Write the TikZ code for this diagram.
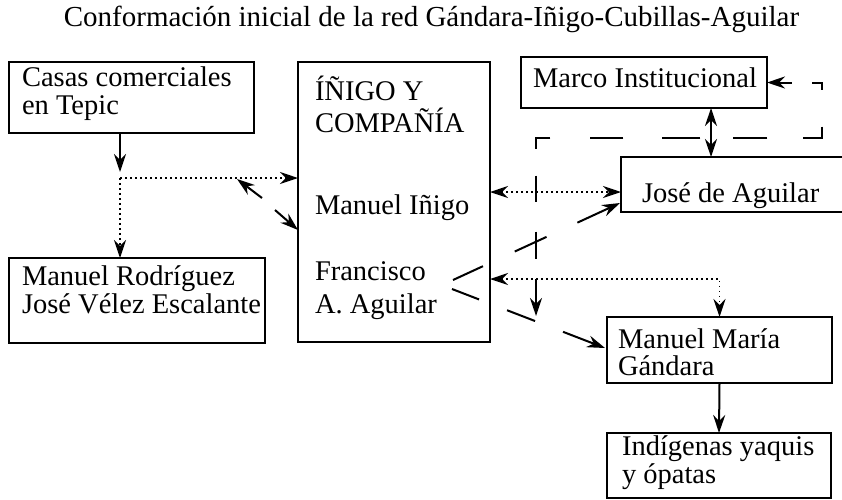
\documentclass[tikz,border=0pt]{standalone}
\usepackage{fontspec}
\setmainfont{Liberation Serif}
\usetikzlibrary{arrows.meta}
\begin{document}
\begin{tikzpicture}[x=1pt,y=-1pt,
  box/.style={draw, line width=1.1pt, inner sep=0pt, outer sep=0pt},
  txt/.style={anchor=base west, inner sep=0pt, outer sep=0pt, font=\fontsize{28.5}{34}\selectfont},
  conn/.style={line width=2pt},
  tipe/.style={-{Stealth[length=18pt,width=12pt,inset=6pt]}},
  tipb/.style={{Stealth[length=18pt,width=12pt,inset=6pt]}-{Stealth[length=18pt,width=12pt,inset=6pt]}},
  dotl/.style={line width=1.6pt, dash pattern=on 1.6pt off 3.4pt},
]
\useasboundingbox (0,0) rectangle (842,499);

% title
\node[anchor=base, inner sep=0pt, font=\fontsize{29}{34}\selectfont] (title) at (431.5,26)
  {Conformación inicial de la red Gándara-Iñigo-Cubillas-Aguilar};

% boxes
\node[box, minimum width=245pt, minimum height=71pt] (casas) at (131.5,97.5) {};
\node[box, minimum width=256pt, minimum height=85pt] (rv) at (137,300.5) {};
\node[box, minimum width=192pt, minimum height=280pt] (inigo) at (394,202) {};
\node[box, minimum width=246pt, minimum height=51pt] (marco) at (644,82.5) {};
\node[box, minimum width=259pt, minimum height=55pt] (jose) at (750.5,184.5) {};
\node[box, minimum width=225pt, minimum height=66pt] (gandara) at (719.5,350) {};
\node[box, minimum width=224pt, minimum height=65pt] (indig) at (719,465.5) {};

% texts
\node[txt] (t1) at (22,86) {Casas comerciales};
\node[txt] (t2) at (22,114) {en Tepic};
\node[txt] (t3) at (22,285) {Manuel Rodríguez};
\node[txt] (t4) at (22,313) {José Vélez Escalante};
\node[txt] (t5) at (315,100) {ÍÑIGO Y};
\node[txt] (t6) at (315,132) {COMPAÑÍA};
\node[txt] (t7) at (315,214) {Manuel Iñigo};
\node[txt] (t8) at (315,280) {Francisco};
\node[txt] (t9) at (315,313) {A. Aguilar};
\node[txt] (t10) at (533,87) {Marco Institucional};
\node[txt] (t11) at (642,202) {José de Aguilar};
\node[txt] (t12) at (618,348) {Manuel María};
\node[txt] (t13) at (618,375) {Gándara};
\node[txt] (t14) at (622,455) {Indígenas yaquis};
\node[txt] (t15) at (622,483) {y ópatas};

% coordinates
\coordinate (jt) at (120,172);
\coordinate (j) at (120,178);
\coordinate (b1s) at (262,198);
\coordinate (b1e) at (237,179);
\coordinate (b2s) at (275,210);
\coordinate (b2e) at (298,230);
\coordinate (miy) at (0,192);
\coordinate (fgy) at (0,279);
\coordinate (mjx) at (711,0);
\coordinate (br1) at (822,82.5);
\coordinate (br2) at (822,138);
\coordinate (br3) at (536,138);
\coordinate (brend) at (536,316);
\coordinate (fa1) at (453,280);
\coordinate (fa1e) at (620,203);
\coordinate (fa2) at (452,289);
\coordinate (fa2e) at (605,348);

% connectors
\draw[conn, tipe] (casas.south -| jt) -- (jt);
\draw[dotl, tipe] (j) -- (j -| inigo.west);
\draw[dotl, tipe] (j) -- (j |- rv.north);
\draw[conn, tipe] (b1s) -- (b1e);
\draw[conn, tipe] (b2s) -- (b2e);
\draw[dotl, tipb] (inigo.east |- miy) -- (jose.west |- miy);
\draw[dotl, tipb] (inigo.east |- fgy) -- (gandara.north |- fgy) -- (gandara.north);
\draw[conn, tipb] (marco.south -| mjx) -- (jose.north -| mjx);
\draw[conn, tipe] (gandara.south) -- (indig.north);
\draw[conn, tipb, dash pattern=on 14pt off 20pt on 17pt off 37pt on 30pt off 36pt on 34pt off 33pt on 38pt off 39pt on 33pt off 40pt on 25pt off 27pt on 26pt off 30pt on 27pt off 20pt on 80pt off 1pt]
  (marco.east) -- (br1) -- (br2) -- (br3) -- (brend);
\draw[conn, tipe, dash pattern=on 33pt off 35pt on 35pt off 34pt on 100pt off 1pt] (fa1) -- (fa1e);
\draw[conn, tipe, dash pattern=on 29pt off 30pt on 30pt off 30pt on 100pt off 1pt] (fa2) -- (fa2e);
\end{tikzpicture}
\end{document}
